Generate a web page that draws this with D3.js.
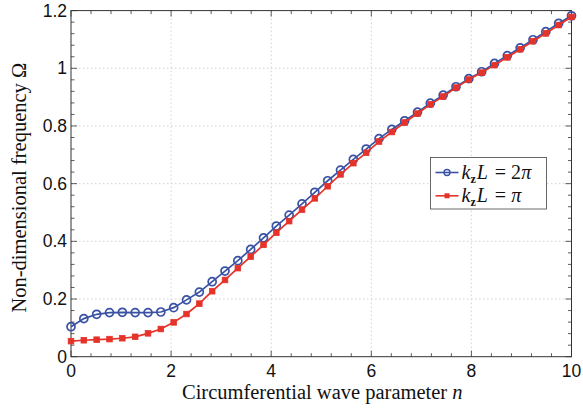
<!DOCTYPE html>
<html>
<head>
<meta charset="utf-8">
<script src="https://cdn.jsdelivr.net/npm/d3@7"></script>
<style>
  body { margin: 0; background: #fff; }
  .tick-label { font-family: "Liberation Sans", Arial, sans-serif; font-size: 17.5px; fill: #111; }
  .axis-title { font-family: "Liberation Serif", "DejaVu Serif", serif; font-size: 20.5px; fill: #111; }
  .legend-text { font-family: "Liberation Serif", serif; font-size: 20px; fill: #111; }
</style>
</head>
<body>
<div id="chart"></div>
<script>
// n values: 40 equally spaced points from 0 to 10
const nCount = 40;
const nValues = d3.range(nCount).map(i => 10 * i / (nCount - 1));

// k_z L = 2*pi (blue circles)
const omega2pi = [
  0.104, 0.132, 0.147, 0.153, 0.154, 0.153, 0.153, 0.155, 0.170, 0.197,
  0.224, 0.260, 0.297, 0.333, 0.372, 0.412, 0.453, 0.491, 0.530, 0.570,
  0.610, 0.647, 0.684, 0.720, 0.756, 0.788, 0.818, 0.848, 0.879, 0.907,
  0.936, 0.964, 0.988, 1.017, 1.044, 1.071, 1.099, 1.127, 1.156, 1.182
];

// k_z L = pi (red squares)
const omegaPi = [
  0.054, 0.057, 0.059, 0.061, 0.064, 0.069, 0.081, 0.096, 0.119, 0.148,
  0.184, 0.227, 0.266, 0.307, 0.347, 0.388, 0.430, 0.470, 0.510, 0.549,
  0.591, 0.632, 0.671, 0.707, 0.746, 0.779, 0.812, 0.843, 0.875, 0.902,
  0.933, 0.961, 0.985, 1.011, 1.038, 1.066, 1.094, 1.121, 1.150, 1.178
];

const xTicks = [0, 2, 4, 6, 8, 10];
const yTicks = [0, 0.2, 0.4, 0.6, 0.8, 1, 1.2];
const yTickLabels = ["0", "0.2", "0.4", "0.6", "0.8", "1", "1.2"];

const W = 583, H = 409;
const margin = { top: 10.6, right: 11.5, bottom: 52.3, left: 71 };
const width = W - margin.left - margin.right;
const height = H - margin.top - margin.bottom;

const svg = d3.select("#chart").append("svg")
    .attr("width", W)
    .attr("height", H);

const x = d3.scaleLinear().domain([0, 10]).range([0, width]);
const y = d3.scaleLinear().domain([0, 1.2]).range([height, 0]);

const g = svg.append("g")
    .attr("transform", `translate(${margin.left},${margin.top})`);

// dotted grid at major ticks
g.selectAll(".gx").data(xTicks.slice(1, -1)).enter().append("line")
    .attr("x1", d => x(d)).attr("x2", d => x(d))
    .attr("y1", 0).attr("y2", height)
    .attr("stroke", "#c8c8c8").attr("stroke-width", 0.8)
    .attr("stroke-dasharray", "1.5,2.5");
g.selectAll(".gy").data(yTicks.slice(1, -1)).enter().append("line")
    .attr("x1", 0).attr("x2", width)
    .attr("y1", d => y(d)).attr("y2", d => y(d))
    .attr("stroke", "#c8c8c8").attr("stroke-width", 0.8)
    .attr("stroke-dasharray", "1.5,2.5");

// inward ticks on all four sides
const xMinor = d3.range(0, 10.001, 0.4).filter(v => !xTicks.some(t => Math.abs(t - v) < 1e-6));
const yMinor = d3.range(0, 1.2001, 0.04).filter(v => !yTicks.some(t => Math.abs(t - v) < 1e-6));
const tickColor = "#333";

function xTickMarks(vals, len) {
    g.selectAll(null).data(vals).enter().append("line")
        .attr("x1", d => x(d)).attr("x2", d => x(d))
        .attr("y1", height).attr("y2", height - len)
        .attr("stroke", tickColor).attr("stroke-width", 0.8);
    g.selectAll(null).data(vals).enter().append("line")
        .attr("x1", d => x(d)).attr("x2", d => x(d))
        .attr("y1", 0).attr("y2", len)
        .attr("stroke", tickColor).attr("stroke-width", 0.8);
}
function yTickMarks(vals, len) {
    g.selectAll(null).data(vals).enter().append("line")
        .attr("x1", 0).attr("x2", len)
        .attr("y1", d => y(d)).attr("y2", d => y(d))
        .attr("stroke", tickColor).attr("stroke-width", 0.8);
    g.selectAll(null).data(vals).enter().append("line")
        .attr("x1", width).attr("x2", width - len)
        .attr("y1", d => y(d)).attr("y2", d => y(d))
        .attr("stroke", tickColor).attr("stroke-width", 0.8);
}
xTickMarks(xTicks, 6);
xTickMarks(xMinor, 3.5);
yTickMarks(yTicks, 6);
yTickMarks(yMinor, 3.5);

// frame
g.append("rect")
    .attr("width", width).attr("height", height)
    .attr("fill", "none").attr("stroke", "#333").attr("stroke-width", 1);

// tick labels
g.selectAll(".xl").data(xTicks).enter().append("text")
    .attr("class", "tick-label")
    .attr("x", d => x(d)).attr("y", height + 20.5)
    .attr("text-anchor", "middle")
    .text(d => d);
g.selectAll(".yl").data(yTicks).enter().append("text")
    .attr("class", "tick-label")
    .attr("x", -4).attr("y", d => y(d) + 6)
    .attr("text-anchor", "end")
    .text((d, i) => yTickLabels[i]);

// axis titles
const xt = svg.append("text").attr("class", "axis-title")
    .attr("x", margin.left + width / 2 + 1).attr("y", 399)
    .attr("text-anchor", "middle");
xt.append("tspan").text("Circumferential wave parameter ");
xt.append("tspan").attr("font-style", "italic").text("n");

const yt = svg.append("text").attr("class", "axis-title")
    .attr("font-size", "22px")
    .attr("transform", `translate(26,${margin.top + height / 2 + 4}) rotate(-90)`)
    .attr("text-anchor", "middle");
yt.append("tspan").text("Non-dimensional frequency Ω");

// series
const series = [
    { values: omega2pi, color: "#3a52a4", marker: "circle" },
    { values: omegaPi, color: "#e5332a", marker: "square" }
];

const line = d3.line()
    .x((d, i) => x(nValues[i]))
    .y(d => y(d));

function drawMarker(sel, s) {
    if (s.marker === "circle") {
        sel.append("circle").attr("r", 4)
            .attr("fill", "none").attr("stroke", s.color).attr("stroke-width", 1.7);
    } else {
        sel.append("rect").attr("x", -2.8).attr("y", -2.8)
            .attr("width", 5.6).attr("height", 5.6)
            .attr("fill", s.color).attr("stroke", s.color).attr("stroke-width", 0.8);
    }
}

series.forEach(s => {
    g.append("path").datum(s.values)
        .attr("d", line)
        .attr("fill", "none").attr("stroke", s.color).attr("stroke-width", 1.7);
    g.selectAll(null).data(s.values).enter().append("g")
        .attr("transform", (d, i) => `translate(${x(nValues[i])},${y(d)})`)
        .each(function () { drawMarker(d3.select(this), s); });
});

// legend
const lg = svg.append("g").attr("transform", "translate(430.5,157.5)");
lg.append("rect").attr("width", 116).attr("height", 51.5)
    .attr("fill", "#fff").attr("stroke", "#444").attr("stroke-width", 0.8);

const legendItems = [
    { s: series[0], rhs: "2" },
    { s: series[1], rhs: "" }
];
legendItems.forEach((item, i) => {
    const row = lg.append("g").attr("transform", `translate(0,${15 + i * 23.3})`);
    row.append("line").attr("x1", 5).attr("x2", 28)
        .attr("stroke", item.s.color).attr("stroke-width", 1.6);
    const m = row.append("g").attr("transform", "translate(16.5,0)");
    if (item.s.marker === "circle") {
        m.append("circle").attr("r", 3)
            .attr("fill", "none").attr("stroke", item.s.color).attr("stroke-width", 1.4);
    } else {
        m.append("rect").attr("x", -2.5).attr("y", -2.5).attr("width", 5).attr("height", 5)
            .attr("fill", item.s.color);
    }
    const t = row.append("text").attr("class", "legend-text").attr("x", 31).attr("y", 6);
    t.append("tspan").attr("font-style", "italic").text("k");
    t.append("tspan").attr("font-weight", "bold").attr("font-size", "12px").attr("dy", 4).text("z");
    t.append("tspan").attr("font-style", "italic").attr("dy", -4).attr("dx", 1).text("L");
    t.append("tspan").attr("dx", 2).text(" = " + item.rhs);
    t.append("tspan").attr("font-style", "italic").text("π");
});
</script>
</body>
</html>
